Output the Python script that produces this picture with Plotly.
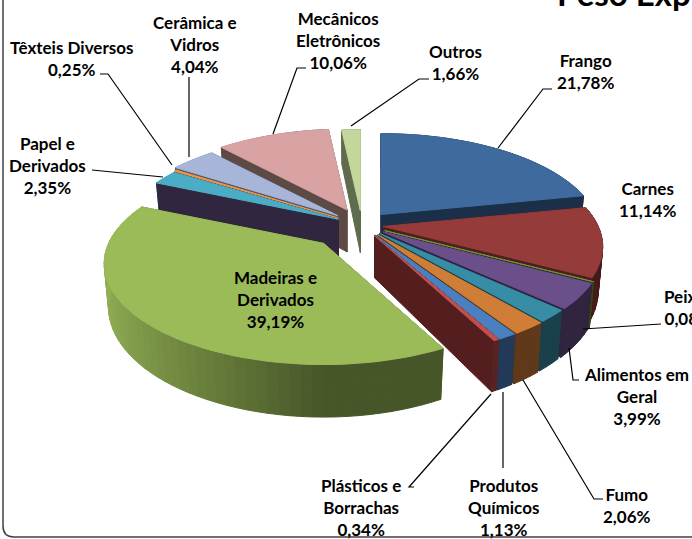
import math
import plotly.graph_objects as go

# ---- data ----
categories = ["Frango", "Carnes", "Peixes", "Alimentos em Geral", "Não rotulado", "Fumo",
              "Produtos Químicos", "Plásticos e Borrachas", "Madeiras e Derivados",
              "Papel e Derivados", "Têxteis Diversos", "Cerâmica e Vidros",
              "Mecânicos Eletrônicos", "Outros"]
values = [21.78, 11.14, 0.08, 3.99, 1.93, 2.06, 1.13, 0.34, 39.19, 2.35, 0.25, 4.04, 10.06, 1.66]
pull = [0.14, 0.10, 0.12, 0.12, 0.12, 0.125, 0.125, 0.125, 0.26, 0.125, 0.13, 0.15, 0.17, 0.15]
top_colors = ["#3E6A9E", "#953B3A", "#76923C", "#6B4F8A", "#378DA5", "#D07E37", "#4A80C0", "#C0504D",
              "#9BBB59", "#4BACC6", "#F79646", "#A6B5D8", "#D9A3A3", "#C3D69B"]
side_colors = ["#1B3048", "#4D1F1F", "#2A3315", "#2E2340", "#174048", "#5A351A", "#1E3654", "#551E1E",
               "#55682F", "#31263F", "#6B3F1C", "#4F5A70", "#5E4A45", "#5F6B4D"]
draw_order = [13, 12, 11, 10, 9, 0, 8, 1, 2, 3, 4, 5, 6, 7]

labels = [
    ("Têxteis Diversos<br>0,25%", 71, 58),
    ("Cerâmica e<br>Vidros<br>4,04%", 195, 44),
    ("Mecânicos<br>Eletrônicos<br>10,06%", 338, 40),
    ("Outros<br>1,66%", 455, 62),
    ("Frango<br>21,78%", 585, 71),
    ("Carnes<br>11,14%", 647, 199),
    ("Peixes<br>0,08%", 688, 307),
    ("Alimentos em<br>Geral<br>3,99%", 636, 396),
    ("Fumo<br>2,06%", 627, 505),
    ("Produtos<br>Químicos<br>1,13%", 503, 507),
    ("Plásticos e<br>Borrachas<br>0,34%", 361, 507),
    ("Madeiras e<br>Derivados<br>39,19%", 275, 299),
    ("Papel e<br>Derivados<br>2,35%", 47, 165),
]
leaders = [
    [(100, 74), (108, 74), (172, 165)],
    [(189, 77), (189, 157)],
    [(306, 68), (297, 68), (273, 134)],
    [(429, 79), (419, 79), (351, 126)],
    [(552, 89), (543, 89), (498, 148)],
    [(661, 324), (583, 329)],
    [(579, 380), (573, 380), (569, 348)],
    [(603, 499), (594, 499), (523, 380)],
    [(503, 468), (503, 392)],
    [(414, 487), (409, 487), (491, 394)],
    [(92, 170), (163, 177)],
]

# ---- projection of the tilted disc ----
CX, CY, RX, RY, K, DEPTH, TAPER = 362, 225, 215, 97, 0.20, 42, 0.02


def radial(u, v, down=0.0):
    """Screen offset of a point on the unit disc, relative to the slice apex."""
    s = 1 / (1 + K * v)
    shrink = 1 - TAPER * down / DEPTH
    return RX * u * s * shrink, -RY * v * s + down * s


def shade(hex_color, f):
    r, g, b = (int(hex_color[i:i + 2], 16) for i in (1, 3, 5))
    return f"rgb({int(r * f)},{int(g * f)},{int(b * f)})"


fig = go.Figure()


def poly(points, color, name):
    fig.add_trace(go.Scatter(
        x=[p[0] for p in points] + [points[0][0]],
        y=[p[1] for p in points] + [points[0][1]],
        mode="lines", fill="toself", fillcolor=color,
        line=dict(color=color, width=1), hoverinfo="text", text=name,
        showlegend=False))


total = sum(values)
edges = [0.0]
for val in values:
    edges.append(edges[-1] + val / total * 2 * math.pi)

for i in draw_order:
    a0, a1 = edges[i], edges[i + 1]
    mid = (a0 + a1) / 2
    ax = CX + RX * pull[i] * math.sin(mid)
    ay = CY - RY * pull[i] * math.cos(mid)
    n = max(2, int((a1 - a0) / math.radians(2.5)) + 1)
    angles = [a0 + (a1 - a0) * j / n for j in range(n + 1)]
    rim = [(math.sin(a), math.cos(a)) for a in angles]
    name = f"{categories[i]}: {values[i]}%"

    def pt(u, v, down=0.0):
        dx, dy = radial(u, v, down)
        return ax + dx, ay + dy

    def wall(j):
        (u0, v0), (u1, v1) = rim[j], rim[j + 1]
        su = math.sin((angles[j] + angles[j + 1]) / 2)
        f = 0.46 + (-su * 0.48 if su < 0 else 0)
        poly([pt(u0, v0), pt(u1, v1), pt(u1, v1, DEPTH), pt(u0, v0, DEPTH)],
             shade(top_colors[i], f), name)

    segs = range(n)
    is_back = [math.cos((angles[j] + angles[j + 1]) / 2) > 0 for j in segs]
    for j in segs:
        if is_back[j]:
            wall(j)
    for (u, v) in (rim[0], rim[-1]):
        poly([pt(0, 0), pt(u, v), pt(u, v, DEPTH), pt(0, 0, DEPTH)], side_colors[i], name)
    for j in segs:
        if not is_back[j]:
            wall(j)
    poly([pt(0, 0)] + [pt(u, v) for u, v in rim], top_colors[i], name)

FONT = "Lato, Carlito, Calibri, sans-serif"
annotations = [
    dict(x=x, y=y, text=t, xref="x", yref="y", showarrow=False, xanchor="center", yanchor="middle",
         font=dict(family=FONT, size=17, color="#000000", weight=700), align="center")
    for t, x, y in labels
]
annotations.append(dict(x=555 / 692, y=1.0, text="Peso Exportado", xref="paper", yref="paper",
                        showarrow=False, xanchor="left", yanchor="middle", yshift=7,
                        font=dict(family=FONT, size=33, color="#000000", weight=700)))

shapes = []
for line in leaders:
    path = "M " + " L ".join(f"{x} {y}" for x, y in line)
    shapes.append(dict(type="path", path=path, xref="x", yref="y",
                       line=dict(color="#000000", width=1.2)))
shapes.append(dict(type="path", path="M 3 -2 L 3 526 Q 3 537 14 537 L 694 537", xref="x", yref="y",
                   line=dict(color="#404040", width=1.5)))

fig.update_layout(
    width=692, height=539, autosize=False,
    margin=dict(l=0, r=0, t=0, b=0),
    paper_bgcolor="#FFFFFF", plot_bgcolor="#FFFFFF",
    xaxis=dict(range=[0, 692], visible=False, fixedrange=True),
    yaxis=dict(range=[539, 0], visible=False, fixedrange=True),
    showlegend=False, annotations=annotations, shapes=shapes,
)
fig.write_html("out.html", post_script="document.body.style.margin='0';document.body.style.overflow='hidden';",
               config={"displayModeBar": False})
